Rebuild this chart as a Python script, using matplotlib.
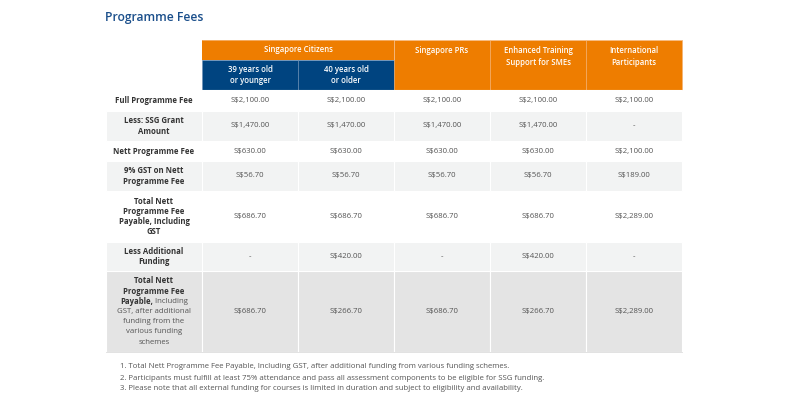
import matplotlib.pyplot as plt
from matplotlib.patches import Rectangle

plt.rcParams['font.family'] = ['Open Sans', 'DejaVu Sans']

# ---- data ----
title = "Programme Fees"
group_header = "Singapore Citizens"
citizen_headers = ["39 years old\nor younger", "40 years old\nor older"]
other_headers = ["Singapore PRs", "Enhanced Training\nSupport for SMEs", "International\nParticipants"]

row_labels = [
    "Full Programme Fee",
    "Less: SSG Grant\nAmount",
    "Nett Programme Fee",
    "9% GST on Nett\nProgramme Fee",
    "Total Nett\nProgramme Fee\nPayable, Including\nGST",
    "Less Additional\nFunding",
    "Total Nett\nProgramme Fee\nPayable, Including\nGST, after additional\nfunding from the\nvarious funding\nschemes",
]
# number of leading characters drawn bold in each label (rest regular)
label_bold_chars = [999, 999, 999, 999, 999, 999, len("Total Nett\nProgramme Fee\nPayable,")]

fees_39_younger = ["S$2,100.00", "S$1,470.00", "S$630.00", "S$56.70", "S$686.70", "-", "S$686.70"]
fees_40_older = ["S$2,100.00", "S$1,470.00", "S$630.00", "S$56.70", "S$686.70", "S$420.00", "S$266.70"]
fees_prs = ["S$2,100.00", "S$1,470.00", "S$630.00", "S$56.70", "S$686.70", "-", "S$686.70"]
fees_sme = ["S$2,100.00", "S$1,470.00", "S$630.00", "S$56.70", "S$686.70", "S$420.00", "S$266.70"]
fees_intl = ["S$2,100.00", "-", "S$2,100.00", "S$189.00", "S$2,289.00", "-", "S$2,289.00"]

footnotes = [
    "1. Total Nett Programme Fee Payable, Including GST, after additional funding from various funding schemes.",
    "2. Participants must fulfill at least 75% attendance and pass all assessment components to be eligible for SSG funding.",
    "3. Please note that all external funding for courses is limited in duration and subject to eligibility and availability.",
]

# ---- layout / style ----
ORANGE = "#ee7d00"
BLUE = "#004480"
TITLE_BLUE = "#1b4f8b"
LABEL_C = "#333333"
VALUE_C = "#555555"
row_fills = ["white", "#f2f3f3", "white", "#f2f3f3", "white", "#f2f3f3", "#e4e4e4"]
x0, label_w, col_w = 106, 96, 96
head_top, group_h, sub_h = 40, 20, 30
row_heights = [21, 30, 20, 30, 51, 29, 81]
line_h = 10.2
fs = 5.6

fig = plt.figure(figsize=(8, 4), dpi=100)
ax = fig.add_axes([0, 0, 1, 1])
ax.set_xlim(0, 800)
ax.set_ylim(400, 0)
ax.axis('off')
renderer = fig.canvas.get_renderer()

ax.text(x0 - 1, 17, title, fontsize=8.7, fontweight='semibold', color=TITLE_BLUE, va='center', ha='left')

cols_x = [x0 + label_w + i * col_w for i in range(5)]

# header
ax.add_patch(Rectangle((cols_x[0], head_top), 2 * col_w, group_h, facecolor=ORANGE, edgecolor='none'))
ax.text(cols_x[0] + col_w, head_top + 10, group_header, fontsize=fs, fontweight='semibold',
        color='white', ha='center', va='center')
for i, h in enumerate(citizen_headers):
    ax.add_patch(Rectangle((cols_x[i], head_top + group_h), col_w, sub_h, facecolor=BLUE,
                           edgecolor='#6a8fb5', linewidth=0.4))
    ax.text(cols_x[i] + col_w / 2, head_top + group_h + sub_h / 2, h, fontsize=fs, fontweight='semibold',
            color='white', ha='center', va='center', linespacing=1.4)
for i, h in enumerate(other_headers):
    cx = cols_x[2 + i]
    ax.add_patch(Rectangle((cx, head_top), col_w, group_h + sub_h, facecolor=ORANGE,
                           edgecolor='#f4b070', linewidth=0.4))
    ax.text(cx + col_w / 2, head_top + 6, h, fontsize=fs, fontweight='semibold',
            color='white', ha='center', va='top', linespacing=1.4)
ax.plot([cols_x[0], cols_x[0] + 5 * col_w], [head_top, head_top], color='#f7c08a', lw=0.5)


def draw_label(xc, yc, text, nbold):
    lines = text.split("\n")
    n = len(lines)
    pos = 0
    for k, line in enumerate(lines):
        y = yc + (k - (n - 1) / 2) * line_h
        start, end = pos, pos + len(line)
        pos = end + 1
        b = max(0, min(len(line), nbold - start))
        segs = [(line[:b], 'bold', LABEL_C), (line[b:], 'normal', VALUE_C)]
        segs = [s for s in segs if s[0]]
        if len(segs) == 1:
            ax.text(xc, y, segs[0][0], fontsize=fs, fontweight=segs[0][1], color=segs[0][2],
                    ha='center', va='center')
            continue
        objs = [ax.text(0, y, s, fontsize=fs, fontweight=w, color=c, ha='left', va='center')
                for s, w, c in segs]
        widths = [o.get_window_extent(renderer).width for o in objs]
        xs = xc - sum(widths) / 2
        for o, wd in zip(objs, widths):
            o.set_x(xs)
            xs += wd


columns = [fees_39_younger, fees_40_older, fees_prs, fees_sme, fees_intl]
y = head_top + group_h + sub_h
for r, hgt in enumerate(row_heights):
    ax.add_patch(Rectangle((x0, y), label_w, hgt, facecolor=row_fills[r], edgecolor='white', linewidth=0.8))
    draw_label(x0 + label_w / 2, y + hgt / 2, row_labels[r], label_bold_chars[r])
    for c, vals in enumerate(columns):
        ax.add_patch(Rectangle((cols_x[c], y), col_w, hgt, facecolor=row_fills[r],
                               edgecolor='white', linewidth=0.8))
        ax.text(cols_x[c] + col_w / 2, y + hgt / 2, vals[r], fontsize=fs, color=VALUE_C,
                ha='center', va='center')
    y += hgt
ax.plot([x0, cols_x[0] + 5 * col_w], [y, y], color='#dddddd', lw=0.6)

for k, note in enumerate(footnotes):
    ax.text(120, 367 + k * 11, note, fontsize=fs, color=VALUE_C, ha='left', va='center')

fig.savefig("out.png", dpi=100)
